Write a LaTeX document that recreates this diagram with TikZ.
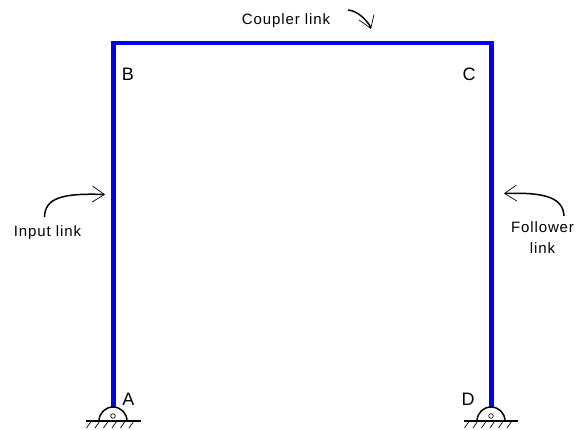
\documentclass[tikz,border=0pt]{standalone}
\usepackage{fontspec}
\setmainfont{Liberation Sans}
\newfontfamily\linkfont[LetterSpace=6]{Liberation Sans}
\usetikzlibrary{arrows.meta}

\tikzset{
  linkbar/.style={draw=blue,line width=4.5pt,line cap=butt,line join=miter},
  corner/.style={font=\fontsize{18}{18}\selectfont,inner sep=0pt},
  linkname/.style={font=\linkfont\fontsize{15}{21}\selectfont,inner sep=0pt,align=center},
  pointer/.style={line width=1.5pt,-{Straight Barb[length=12pt,width=16pt,line width=.7pt]}},
  ground/.style={line width=1.2pt},
  hatch/.style={line width=.7pt},
  pin/.style={line width=1.5pt},
}

\begin{document}
\begin{tikzpicture}[x=1pt,y=-1pt]
    \useasboundingbox (0,0) rectangle (576,430);

    \coordinate (A) at (113.5,408.5);
    \coordinate (B) at (113.5,43);
    \coordinate (C) at (491.5,43);
    \coordinate (D) at (491.5,408.5);

    \node[corner] (a) at (128.5,399) {A};
    \node[corner] (b) at (128,74) {B};
    \node[corner] (c) at (469,74) {C};
    \node[corner] (d) at (468,399) {D};

    \node[linkname] (input) at (47.5,233) {Input link};
    \node[linkname] (follower) at (542.5,237.5) {Follower\\link};
    \node[linkname] (coupler) at (286,20.5) {Coupler link};

    \coordinate (i1) at (44.5,217);
    \coordinate (i2) at (105,194.5);
    \coordinate (f1) at (564,216);
    \coordinate (f2) at (504,193.5);
    \coordinate (c1) at (348,10);
    \coordinate (c2) at (371,29);

    \draw[linkbar] (A)--(B)--(C)--(D);

    \draw[pointer] (i1) .. controls (45,198) and (62,193) .. (i2);
    \draw[pointer] (f1) .. controls (563,198) and (546,192) .. (f2);
    \draw[pointer] (c1) .. controls (358,11) and (365,19) .. (369.5,25) -- (c2);

    % supports
    \foreach \sx/\gl/\gr in {113/86/141,491/464/518}{
      \draw[pin] (\sx-14,421) arc (180:360:14);
      \draw[hatch] (\sx,416) circle (2.3);
      \draw[ground] (\gl,421)--(\gr,421);
      \foreach \hx in {0,1,2,3,4,5}
        \draw[hatch] (\gl+5+\hx*8.5,421.5)--++(-4.5,6.5);
    }
  \end{tikzpicture}
\end{document}
